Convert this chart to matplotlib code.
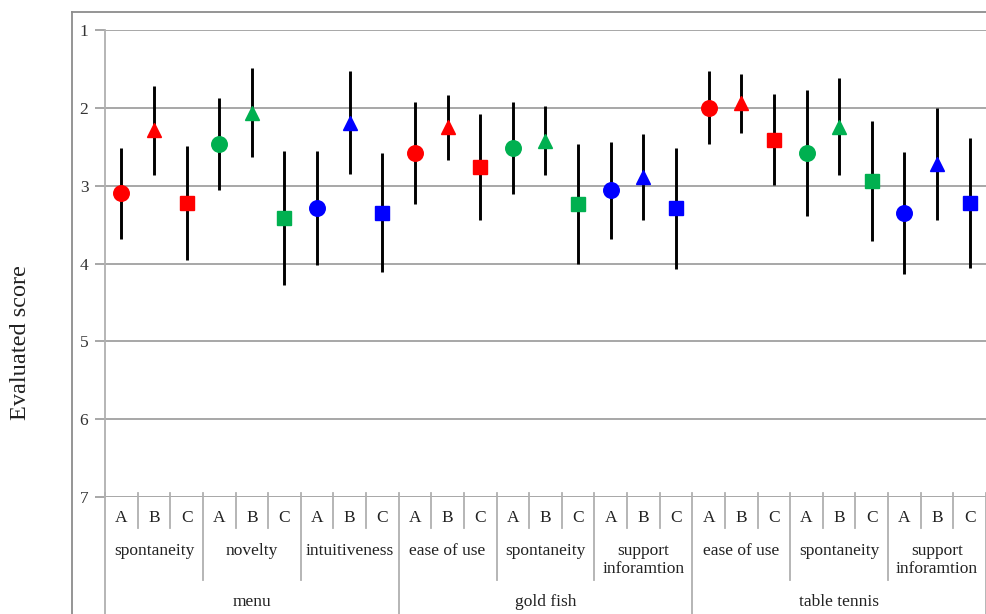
import matplotlib.pyplot as plt
from matplotlib.lines import Line2D
import numpy as np

plt.rcParams['font.family'] = ['Liberation Serif', 'DejaVu Serif']

# mean score and SD per condition, order: A, B, C inside each item
scenes = ["menu", "gold fish", "table tennis"]
items = [["spontaneity", "novelty", "intuitiveness"],
         ["ease of use", "spontaneity", "support\ninforamtion"],
         ["ease of use", "spontaneity", "support\ninforamtion"]]
conditions = ["A", "B", "C"]

means = [3.10, 2.29, 3.22, 2.46, 2.06, 3.41, 3.29, 2.19, 3.35,
         2.58, 2.25, 2.76, 2.52, 2.42, 3.23, 3.06, 2.89, 3.29,
         2.00, 1.94, 2.41, 2.58, 2.24, 2.94, 3.35, 2.72, 3.22]
sds = [0.58, 0.575, 0.735, 0.59, 0.57, 0.86, 0.735, 0.665, 0.765,
       0.66, 0.415, 0.675, 0.59, 0.44, 0.77, 0.62, 0.555, 0.78,
       0.47, 0.38, 0.585, 0.805, 0.62, 0.77, 0.785, 0.72, 0.835]

item_colors = ["#FF0000", "#00B050", "#0000FF"]
cond_markers = {"A": ("o", 11.2), "B": ("^", 10.5), "C": ("s", 10.5)}

W, H = 987, 614
fig = plt.figure(figsize=(W / 100, H / 100), dpi=100)
left, right, top, bottom = 105, 986, 30, 497
ax = fig.add_axes([left / W, 1 - bottom / H, (right - left) / W, (bottom - top) / H])

grey = "#a0a0a0"
n = len(means)
xs = np.arange(n) + 0.5
for i in range(n):
    color = item_colors[(i // 3) % 3]
    marker, ms = cond_markers[conditions[i % 3]]
    ax.plot([xs[i], xs[i]], [means[i] - sds[i], means[i] + sds[i]],
            color="black", lw=2.1, solid_capstyle="butt", zorder=3)
    ax.plot(xs[i], means[i], marker=marker, ms=ms, color=color,
            mec=color, ls="none", zorder=4)

ax.set_xlim(0, n)
ax.set_ylim(7, 1)
ax.set_yticks(range(1, 8))
ax.set_xticks([])
ax.yaxis.grid(True, color=grey, lw=1.3)
ax.set_axisbelow(True)
for s in ["top", "right", "bottom"]:
    ax.spines[s].set_visible(False)
ax.spines["left"].set_color("#b0b0b0")
ax.spines["left"].set_linewidth(1.3)
ax.tick_params(axis="y", length=7, width=1.3, color=grey, labelsize=12.5,
               pad=5, labelcolor="#333333")

# category axis drawn as three levels of boxes below the plot
def px(y):
    return (bottom - y) / (bottom - top)

trans = ax.get_xaxis_transform()
sep_kw = dict(color="#b0b0b0", lw=1.3, transform=trans, clip_on=False)
for k in range(n + 1):
    if k % 9 == 0:
        y_end = 614
    elif k % 3 == 0:
        y_end = 580
    else:
        y_end = 528
    ax.add_line(Line2D([k, k], [px(493), px(y_end)], **sep_kw))

txt_kw = dict(transform=trans, ha="center", fontsize=12.5, color="#222222",
              clip_on=False)
for i in range(n):
    ax.text(xs[i], px(518), conditions[i % 3], va="center", **txt_kw)
for g, scene in enumerate(scenes):
    for j, item in enumerate(items[g]):
        ax.text(g * 9 + j * 3 + 1.5, px(543), item, va="top",
                linespacing=1.2, **txt_kw)
    ax.text(g * 9 + 4.5, px(602), scene, va="center", **txt_kw)

# outer chart frame
frame_kw = dict(color="#8c8c8c", lw=1.3, transform=fig.transFigure)
fig.add_artist(Line2D([72.5 / W, 72.5 / W], [1 - 12 / H, 0], **frame_kw))
fig.add_artist(Line2D([72.5 / W, 1], [1 - 12 / H, 1 - 12 / H], **frame_kw))

fig.text(21 / W, 1 - 343 / H, "Evaluated score", rotation=90, ha="center",
         va="center", fontsize=17.5, color="#222222")

fig.savefig("out.png", dpi=100)
